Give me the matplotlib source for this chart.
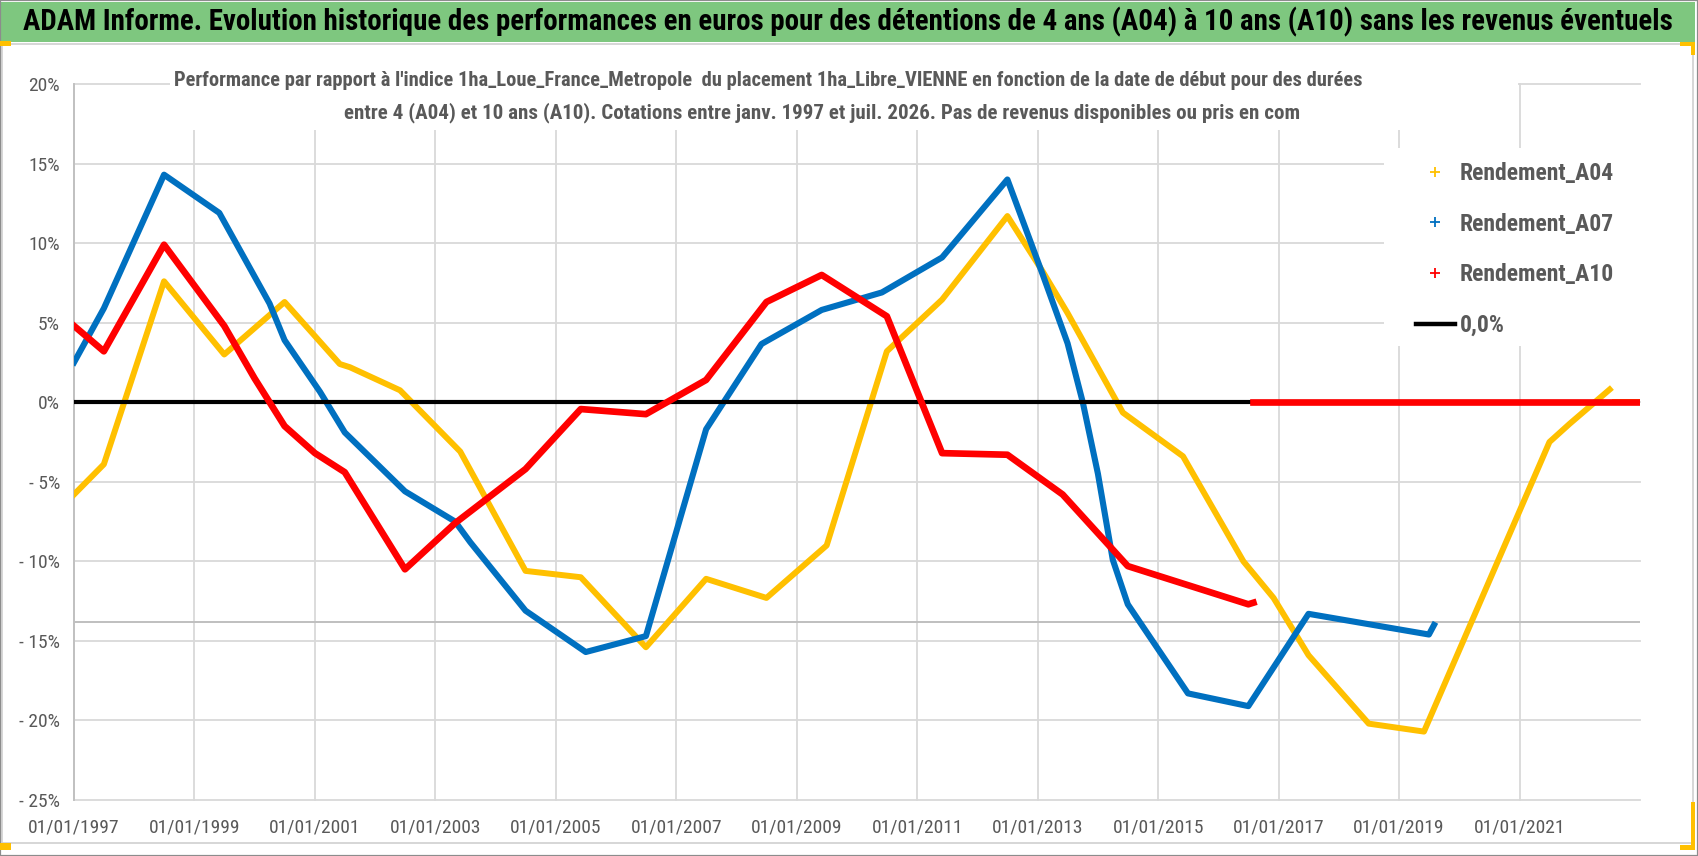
import matplotlib
matplotlib.use("Agg")
import matplotlib.pyplot as plt
import matplotlib.dates as mdates
import matplotlib.font_manager as fm
from matplotlib.lines import Line2D
from matplotlib.patches import Rectangle
from matplotlib.ticker import FuncFormatter
import pandas as pd

W, H = 1698, 856

title = ("ADAM Informe. Evolution historique des performances en euros pour des "
         "détentions de 4 ans (A04) à 10 ans (A10) sans les revenus éventuels")
subtitle_1 = ("Performance par rapport à l'indice 1ha_Loue_France_Metropole  du placement "
              "1ha_Libre_VIENNE en fonction de la date de début pour des durées")
subtitle_2 = ("entre 4 (A04) et 10 ans (A10). Cotations entre janv. 1997 et juil. 2026. "
              "Pas de revenus disponibles ou pris en com")

series_names = ["Rendement_A04", "Rendement_A07", "Rendement_A10"]
zero_name = "0,0%"

# values (dates of the break points, % values)
a04_dates = ["1997-01", "1997-07", "1998-07", "1999-07", "2000-07", "2001-06", "2001-08",
             "2002-06", "2003-06", "2004-07", "2005-06", "2006-07", "2007-07", "2008-07",
             "2009-07", "2010-07", "2011-06", "2012-07", "2013-02", "2013-07", "2014-06",
             "2015-06", "2016-06", "2016-12", "2017-07", "2018-07", "2019-06", "2021-07",
             "2021-11", "2022-07"]
a04_values = [-5.8, -3.9, 7.6, 3.0, 6.3, 2.4, 2.2,
              0.75, -3.1, -10.6, -11.0, -15.4, -11.1, -12.3,
              -9.0, 3.2, 6.45, 11.7, 8.2, 5.6, -0.65,
              -3.4, -10.0, -12.3, -15.9, -20.2, -20.7, -2.5,
              -1.35, 0.8]
a04_zero_dates = ["2022-08", "2023-01"]

a07_dates = ["1997-01", "1997-07", "1998-07", "1999-06", "2000-04", "2000-07", "2001-02",
             "2001-07", "2002-07", "2003-05", "2003-08", "2004-07", "2005-07", "2006-07",
             "2007-07", "2008-06", "2009-06", "2010-06", "2011-06", "2012-07", "2013-02",
             "2013-07", "2013-10", "2014-01", "2014-04", "2014-07", "2015-07", "2016-07",
             "2017-07", "2019-07", "2019-08"]
a07_values = [2.5, 5.9, 14.3, 11.9, 6.2, 3.9, 0.65,
              -1.9, -5.6, -7.5, -8.8, -13.1, -15.7, -14.7,
              -1.7, 3.66, 5.8, 6.9, 9.1, 14.0, 8.0,
              3.7, 0.0, -4.5, -9.9, -12.7, -18.3, -19.1,
              -13.3, -14.6, -14.0]

a10_dates = ["1997-01", "1997-07", "1998-07", "1999-07", "2000-01", "2000-07", "2001-01",
             "2001-07", "2002-07", "2003-05", "2004-07", "2005-06", "2006-07", "2007-07",
             "2008-07", "2009-06", "2010-07", "2011-06", "2012-07", "2013-06", "2014-07",
             "2016-07", "2016-08"]
a10_values = [4.8, 3.2, 9.9, 4.8, 1.5, -1.5, -3.2,
              -4.4, -10.5, -7.6, -4.2, -0.43, -0.75, 1.4,
              6.3, 8.0, 5.4, -3.2, -3.3, -5.8, -10.3,
              -12.7, -12.6]
a10_zero_dates = ["2016-08", "2023-01"]

zero_dates = ["1997-01", "2023-01"]
ref_level = -13.8

x_start, x_end = "1997-01-01", "2023-01-01"
tick_years = list(range(1997, 2022, 2))
y_ticks = list(range(-25, 21, 5))

colors = ["#FFC000", "#0070C0", "#FF0000"]
grey_txt = "#595959"

names = {f.name for f in fm.fontManager.ttflist}
font = next((n for n in ["Liberation Sans Narrow", "Roboto Condensed",
                         "Open Sans Condensed", "Lato"] if n in names), "DejaVu Sans")
plt.rcParams["font.family"] = [font, "DejaVu Sans"]

fig = plt.figure(figsize=(W / 100, H / 100), dpi=100)


def fx(x):
    return x / W


def fy(y):
    return 1 - y / H


# frame, green band, selection marks
fig.patches.append(Rectangle((fx(2), fy(843)), fx(1693) - fx(2), fy(44) - fy(843),
                             transform=fig.transFigure, facecolor="white",
                             edgecolor="#cfcfcf", lw=1.2, zorder=-3))
fig.patches.append(Rectangle((fx(1), fy(42)), fx(1695) - fx(1), fy(2) - fy(42),
                             transform=fig.transFigure, facecolor="#7EC77F",
                             edgecolor="none", zorder=-2))
fig.patches.append(Rectangle((0, 0), 1, 1, transform=fig.transFigure, facecolor="none",
                             edgecolor="#8c8c8c", lw=1.6, zorder=-1))
for (x0, y0, x1, y1) in [(0, 41, 11, 46), (0, 843, 11, 850), (1680, 42, 1695, 46),
                         (1691, 42, 1695, 55), (1691, 802, 1695, 850), (1680, 845, 1695, 850)]:
    fig.patches.append(Rectangle((fx(x0), fy(y1)), fx(x1) - fx(x0), fy(y0) - fy(y1),
                                 transform=fig.transFigure, facecolor="#FFC000",
                                 edgecolor="none", zorder=-1))

ax = fig.add_axes([fx(74), fy(800), fx(1640) - fx(74), fy(84) - fy(800)])
ax.set_facecolor("none")
ax.set_zorder(1)

d = pd.to_datetime
ax.axhline(ref_level, color="#bfbfbf", lw=1.4, zorder=1)
ax.plot(d(a04_dates), a04_values, color=colors[0], lw=4.3, solid_joinstyle="round", zorder=3)
ax.plot(d(a04_zero_dates), [0, 0], color=colors[0], lw=4.3, zorder=3)
ax.plot(d(a07_dates), a07_values, color=colors[1], lw=4.4, solid_joinstyle="round", zorder=4)
ax.plot(d(zero_dates), [0, 0], color="black", lw=3.0, zorder=5)
ax.plot(d(a10_dates), a10_values, color=colors[2], lw=4.8, solid_joinstyle="round", zorder=6)
ax.plot(d(a10_zero_dates), [0, 0], color=colors[2], lw=4.8, zorder=6)

ax.set_xlim(d(x_start), d(x_end))
ax.set_ylim(-25, 20)
ax.set_xticks(d([f"{y}-01-01" for y in tick_years]))
ax.xaxis.set_major_formatter(mdates.DateFormatter("%d/%m/%Y"))
ax.set_yticks(y_ticks)
ax.yaxis.set_major_formatter(FuncFormatter(
    lambda v, _: f"{v:.0f}%" if v >= 0 else f"- {abs(v):.0f}%"))
ax.grid(True, color="#d9d9d9", lw=1.3)
ax.set_axisbelow(True)
for gl in ax.get_xgridlines() + ax.get_ygridlines():
    gl.set_clip_on(False)
for s in ["top", "right", "bottom"]:
    ax.spines[s].set_visible(False)
ax.spines["left"].set_color("#bfbfbf")
ax.spines["left"].set_linewidth(1.3)
ax.tick_params(axis="both", length=0, labelsize=14, labelcolor=grey_txt)
ax.tick_params(axis="x", pad=13)
ax.tick_params(axis="y", pad=10)

# white boxes of the chart title and of the legend
ax.add_patch(Rectangle((fx(170), fy(130)), fx(1518) - fx(170), fy(68) - fy(130),
                       transform=fig.transFigure, facecolor="white", edgecolor="none",
                       zorder=1.5, clip_on=False))
ax.add_patch(Rectangle((fx(1384), fy(346)), fx(1641) - fx(1384), fy(148) - fy(346),
                       transform=fig.transFigure, facecolor="white", edgecolor="none",
                       zorder=1.5, clip_on=False))

handles = [Line2D([], [], ls="none", marker="+", color=c, ms=7, mew=1.3) for c in colors]
handles.append(Line2D([], [], color="black", lw=3.2))
ax.legend(handles, series_names + [zero_name], loc="upper left",
          bbox_to_anchor=(fx(1416), fy(162)), bbox_transform=fig.transFigure,
          frameon=False, borderpad=0, borderaxespad=0, handlelength=1.65,
          handletextpad=0.2, labelspacing=1.17, labelcolor=grey_txt,
          prop={"family": [font, "DejaVu Sans"], "weight": "bold", "size": 17})

t_title = fig.text(fx(848), fy(22), title, ha="center", va="center", fontsize=22,
                   fontweight="bold", color="black", zorder=5)
t_sub1 = fig.text(fx(768), fy(81), subtitle_1, ha="center", va="center", fontsize=15,
                  fontweight="bold", color=grey_txt, zorder=5)
t_sub2 = fig.text(fx(822), fy(113), subtitle_2, ha="center", va="center", fontsize=15,
                  fontweight="bold", color=grey_txt, zorder=5)

fig.canvas.draw()
r = fig.canvas.get_renderer()
for t, target in [(t_title, 1649), (t_sub1, 1187)]:
    w = t.get_window_extent(r).width
    t.set_fontsize(t.get_fontsize() * target / w)
t_sub2.set_fontsize(t_sub1.get_fontsize() * 1.03)

fig.savefig("out.png", dpi=100)
